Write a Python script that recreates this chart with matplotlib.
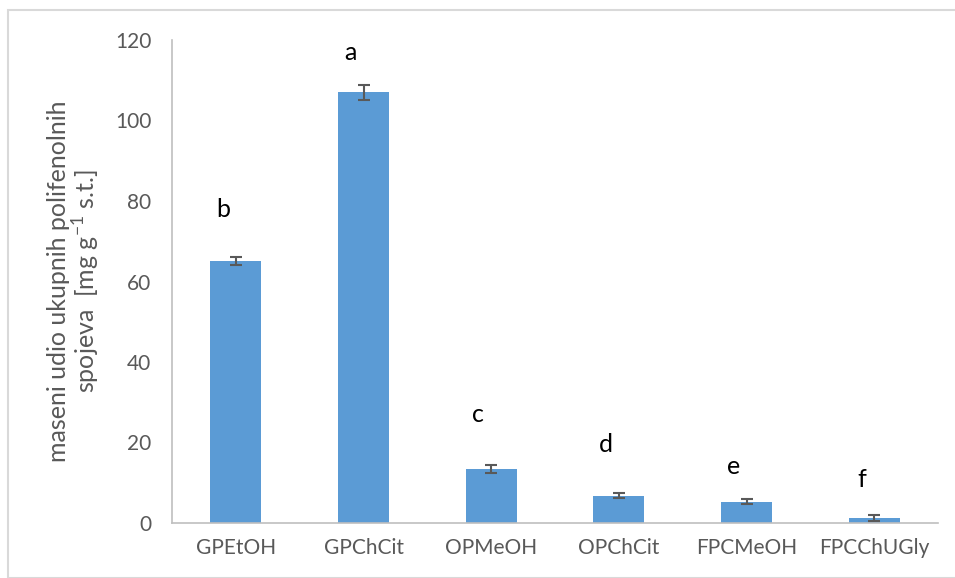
import numpy as np
import matplotlib.pyplot as plt
from matplotlib.patches import Rectangle

plt.rcParams['font.family'] = ['Lato', 'DejaVu Sans']
plt.rcParams['mathtext.fontset'] = 'custom'
plt.rcParams['mathtext.rm'] = 'Lato'

samples = ['GPEtOH', 'GPChCit', 'OPMeOH', 'OPChCit', 'FPCMeOH', 'FPCChUGly']
values = [65.0, 107.0, 13.4, 6.8, 5.3, 1.3]
errors = [1.0, 1.8, 1.1, 0.7, 0.6, 0.7]
letters = ['b', 'a', 'c', 'd', 'e', 'f']
letter_y = [78, 117, 27, 19.5, 14, 10.7]

grey = '#595959'

fig = plt.figure(figsize=(9.55, 5.78), dpi=100)
ax = fig.add_axes([172/955, 55/578, 766/955, 483/578])

x = np.arange(len(samples))
ax.bar(x, values, width=0.4, color='#5B9BD5', zorder=2)
ax.errorbar(x, values, yerr=errors, fmt='none', ecolor=grey,
            elinewidth=1.5, capsize=4.5, capthick=1.5, zorder=3)

for xi, lab, ly in zip(x, letters, letter_y):
  ax.text(xi - 0.1, ly, lab, ha='center', va='center', fontsize=18, color='black')

ax.set_xlim(-0.5, len(samples) - 0.5)
ax.set_ylim(0, 120)
ax.set_yticks(np.arange(0, 121, 20))
ax.set_xticks(x)
ax.set_xticklabels(samples)
ax.tick_params(axis='both', length=0, labelsize=15, colors=grey)
ax.tick_params(axis='x', pad=11)
ax.tick_params(axis='y', pad=15)

ax.spines['right'].set_visible(False)
ax.spines['top'].set_visible(False)
ax.spines['left'].set_color('#BFBFBF')
ax.spines['bottom'].set_color('#BFBFBF')
ax.spines['left'].set_linewidth(1.2)
ax.spines['bottom'].set_linewidth(1.2)

ax.set_ylabel('maseni udio ukupnih polifenolnih\nspojeva  [mg g$^{\\mathrm{-1}}$ s.t.]',
              fontsize=18, color=grey, labelpad=9, linespacing=1.05)

# outer chart frame
fig.patches.append(Rectangle((8/955, 0), 1.0, 1 - 10/578, transform=fig.transFigure,
                             fill=False, edgecolor='#D9D9D9', linewidth=1.5))

plt.savefig('out.png', dpi=100)
